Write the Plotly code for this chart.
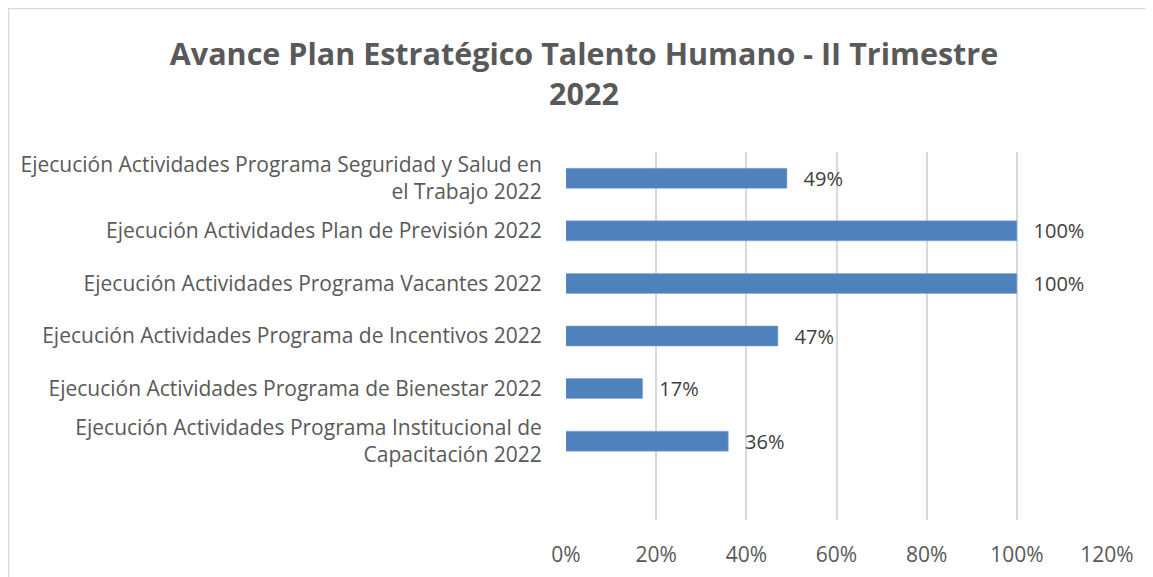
import plotly.graph_objects as go

categories = [
    "Ejecución Actividades Programa Institucional de<br>Capacitación 2022",
    "Ejecución Actividades Programa de Bienestar 2022",
    "Ejecución Actividades Programa de Incentivos 2022",
    "Ejecución Actividades Programa Vacantes 2022",
    "Ejecución Actividades Plan de Previsión 2022",
    "Ejecución Actividades Programa Seguridad y Salud en<br>el Trabajo 2022",
]
values = [0.36, 0.17, 0.47, 1.00, 1.00, 0.49]
labels = ["36%", "17%", "47%", "100%", "100%", "49%"]
x_ticks = [0, 0.2, 0.4, 0.6, 0.8, 1.0, 1.2]
x_ticklabels = ["0%", "20%", "40%", "60%", "80%", "100%", "120%"]

# page body has an 8px margin; figure size and margins expressed in figure coords
OFF = 8
W, H = 1153 - OFF, 577 - OFF
L = 566 - OFF
R = W - (1107 - OFF)
T = 152 - OFF
B = H - (520 - OFF)

FONT = "Open Sans, Liberation Sans, Arial, sans-serif"

fig = go.Figure(go.Bar(
    x=values, y=categories, orientation="h",
    marker=dict(color="#4f81bd", line=dict(color="#7ea6d8", width=0.5)),
    width=0.38,
    text=labels, texttemplate="\u00a0\u00a0\u2009%{text}",
    textposition="outside", cliponaxis=False, constraintext="none",
    textfont=dict(family=FONT, size=20, color="#404040"),
))

fig.update_layout(
    width=W, height=H,
    margin=dict(l=L, r=R, t=T, b=B, autoexpand=False),
    paper_bgcolor="white", plot_bgcolor="white",
    showlegend=False,
    title=dict(
        text="<b>Avance Plan Estratégico Talento Humano - II Trimestre<br>2022</b>",
        x=(584 - OFF) / W, xref="container", xanchor="center",
        y=(H - (65 - OFF)) / H, yref="container", yanchor="middle",
        font=dict(family=FONT, size=30.5, color="#595959"),
    ),
    font=dict(family=FONT, color="#595959"),
)
fig.update_xaxes(
    automargin=False,
    range=[0, 1.2], tickvals=x_ticks, ticktext=x_ticklabels,
    showgrid=True, gridcolor="#d9d9d9", gridwidth=1.5,
    zeroline=False, showline=False,
    ticks="outside", ticklen=16, tickcolor="rgba(0,0,0,0)",
    tickfont=dict(family=FONT, size=21, color="#595959"),
)
fig.update_yaxes(
    automargin=False,
    type="category", categoryorder="array", categoryarray=categories,
    range=[-1.5, 5.5],
    showgrid=False, zeroline=False, showline=False,
    ticks="outside", ticklen=19, tickcolor="rgba(0,0,0,0)",
    tickfont=dict(family=FONT, size=21, color="#595959"),
)
# chart border
pw, ph = W - L - R, H - T - B
fig.add_shape(type="rect", xref="paper", yref="paper",
              x0=(0.5 - L) / pw, x1=(W + 10 - L) / pw,
              y0=-(H + 10 - (H - B)) / ph, y1=((H - B) - 0.5) / ph,
              line=dict(color="#d9d9d9", width=1.5), fillcolor="rgba(0,0,0,0)", layer="below")

fig.write_html("out.html")
